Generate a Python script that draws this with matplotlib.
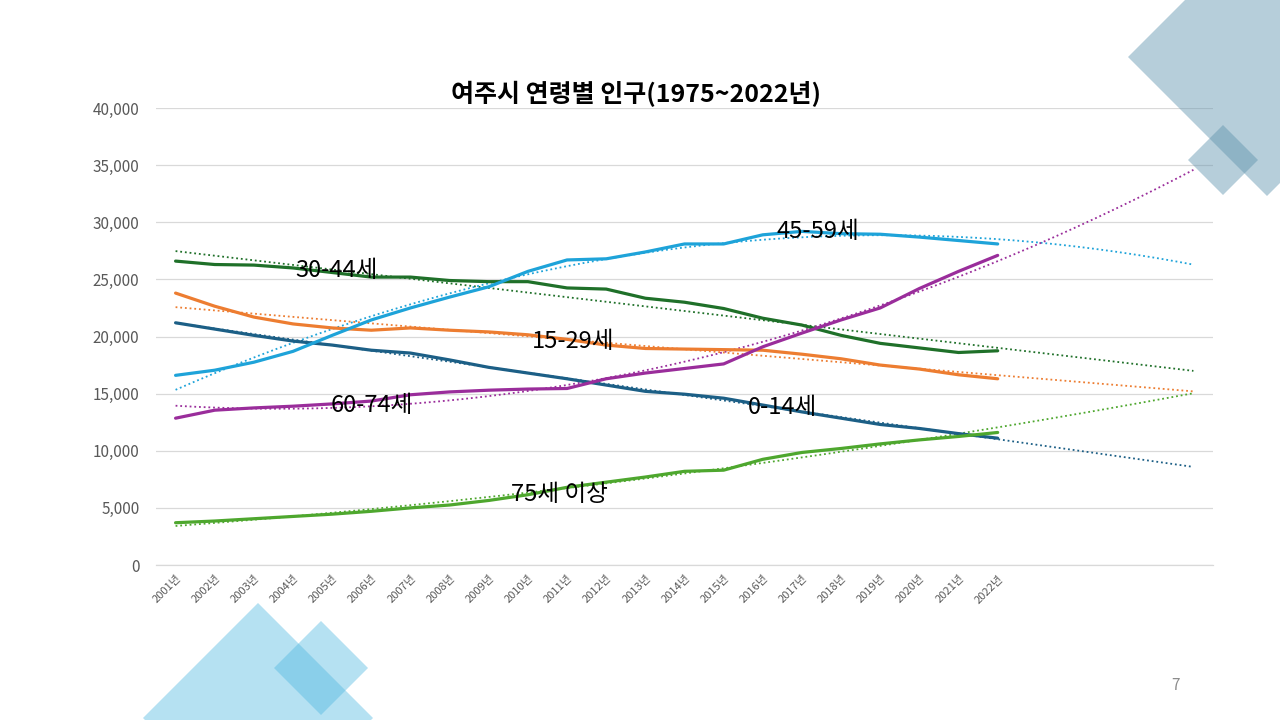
import numpy as np
import matplotlib.pyplot as plt
from matplotlib.patches import Polygon

plt.rcParams['font.family'] = ['Noto Sans CJK KR', 'DejaVu Sans']

# data
years = [f"{y}년" for y in range(2001, 2023)]
age_0_14 = [21200, 20650, 20100, 19600, 19250, 18800, 18550, 17950, 17300, 16800, 16300,
            15750, 15200, 14950, 14600, 14000, 13400, 12850, 12300, 11950, 11500, 11100]
age_15_29 = [23800, 22650, 21700, 21100, 20750, 20550, 20750, 20550, 20400, 20150, 19750,
             19250, 18950, 18900, 18850, 18800, 18450, 18050, 17500, 17150, 16650, 16300]
age_30_44 = [26600, 26300, 26250, 26000, 25600, 25200, 25200, 24900, 24800, 24800, 24250,
             24150, 23350, 23000, 22450, 21600, 21000, 20100, 19400, 19000, 18600, 18750]
age_45_59 = [16600, 17050, 17750, 18700, 20100, 21450, 22500, 23450, 24350, 25700, 26700,
             26800, 27400, 28100, 28100, 28900, 29200, 29000, 28950, 28700, 28400, 28100]
age_60_74 = [12850, 13550, 13750, 13900, 14100, 14350, 14900, 15150, 15300, 15400, 15450,
             16300, 16800, 17200, 17600, 19100, 20300, 21450, 22500, 24200, 25700, 27100]
age_75_up = [3700, 3850, 4050, 4250, 4450, 4700, 5000, 5250, 5650, 6150, 6800,
             7250, 7700, 8200, 8300, 9250, 9850, 10200, 10600, 10950, 11250, 11600]

series_names = ['0-14세', '15-29세', '30-44세', '45-59세', '60-74세', '75세 이상']
series_vals = [age_0_14, age_15_29, age_30_44, age_45_59, age_60_74, age_75_up]
colors = ['#1c5f86', '#ed7d31', '#1f7029', '#1ea3d9', '#9a2d9b', '#4ea72e']
trend_deg = [1, 1, 1, 2, 2, 2]
forecast = 5

# where Excel put the series name labels (x index, y value)
label_pos = [(15.5, 13800), (10.15, 19600), (4.1, 25800), (16.4, 29150), (5.0, 14000), (9.8, 6200)]

fig = plt.figure(figsize=(12.8, 7.2), dpi=100)

# background decorations (pixel coords, y from top)
def diamond(cx, cy, r, color, alpha):
    pts = [(cx, cy - r), (cx + r, cy), (cx, cy + r), (cx - r, cy)]
    pts = [(x / 1280, 1 - y / 720) for x, y in pts]
    fig.patches.append(Polygon(pts, closed=True, transform=fig.transFigure,
                               facecolor=color, alpha=alpha, edgecolor='none', zorder=0))

diamond(1267, 57, 139, '#5f93ad', 0.45)
diamond(1223, 160, 35, '#5f93ad', 0.45)
diamond(258, 718, 115, '#4fb8e0', 0.42)
diamond(321, 668, 47, '#4fb8e0', 0.42)

ax = fig.add_axes([156 / 1280, 1 - 565 / 720, (1213 - 156) / 1280, (565 - 108) / 720])
ax.patch.set_alpha(0)

x = np.arange(len(years))
x_tr = np.linspace(0, len(years) - 1 + forecast, 200)
for name, vals, c, deg in zip(series_names, series_vals, colors, trend_deg):
    ax.plot(x, vals, color=c, lw=2.3, solid_capstyle='round', zorder=3)
    coef = np.polyfit(x, vals, deg)
    ax.plot(x_tr, np.polyval(coef, x_tr), color=c, lw=1.3, ls=(0, (1, 1.6)), zorder=2)

for name, (lx, ly) in zip(series_names, label_pos):
    ax.text(lx, ly, name, fontsize=17, ha='center', va='center', color='black', zorder=5)

ax.set_xlim(-0.5, len(years) - 1 + forecast + 0.5)
ax.set_ylim(0, 40000)
ax.set_yticks(range(0, 40001, 5000))
ax.set_yticklabels([f"{v:,}" for v in range(0, 40001, 5000)], fontsize=11, color='#595959')
ax.set_xticks(x)
ax.set_xticklabels(years, rotation=45, ha='right', rotation_mode='anchor',
                   fontsize=8, color='#595959')
ax.tick_params(length=0, axis='both')
ax.tick_params(axis='y', pad=12)
ax.tick_params(axis='x', pad=6)
ax.grid(axis='y', color='#d9d9d9', lw=0.9)
ax.set_axisbelow(True)
for s in ['top', 'right', 'left']:
    ax.spines[s].set_visible(False)
ax.spines['bottom'].set_color('#d9d9d9')
ax.spines['bottom'].set_linewidth(0.9)

fig.text(636 / 1280, 1 - 94 / 720, '여주시 연령별 인구(1975~2022년)', fontsize=18,
         fontweight='bold', ha='center', va='center')
fig.text(1176 / 1280, 1 - 686 / 720, '7', fontsize=11, color='#8c8c8c', ha='center', va='center')

fig.savefig('out.png', dpi=100)
